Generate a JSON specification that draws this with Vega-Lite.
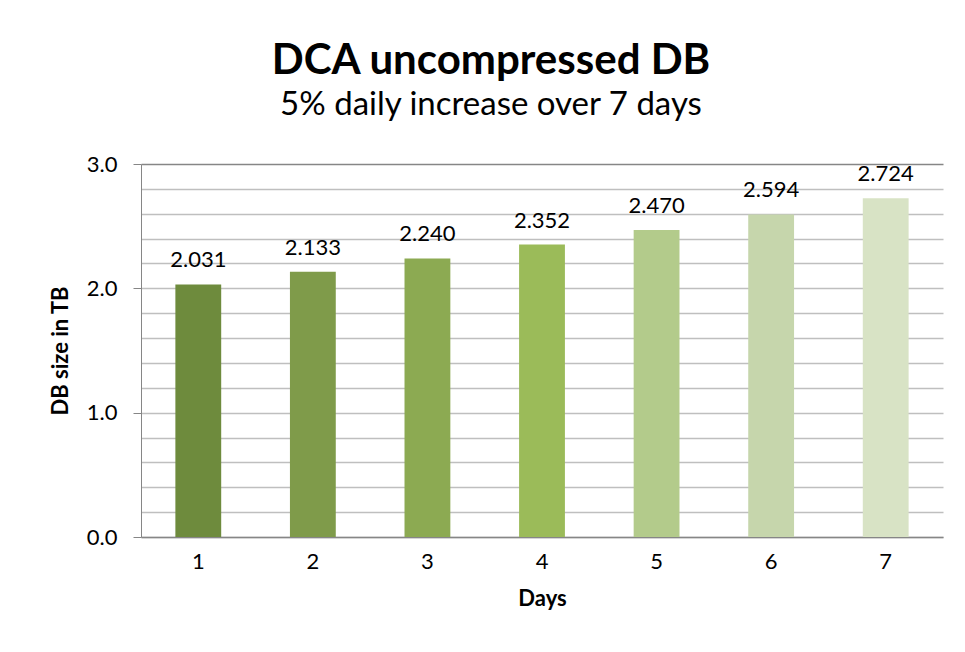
{
  "$schema": "https://vega.github.io/schema/vega-lite/v6.json",
  "width": 802,
  "height": 373,
  "autosize": {"type": "none"},
  "padding": {"left": 141, "top": 164, "right": 22, "bottom": 115},
  "background": "white",
  "title": {
    "text": "DCA uncompressed DB",
    "subtitle": "5% daily increase over 7 days",
    "anchor": "middle",
    "frame": "group",
    "dx": -51,
    "offset": 30,
    "font": "Lato",
    "fontSize": 42,
    "fontWeight": "bold",
    "color": "#000000",
    "subtitleFont": "Lato",
    "subtitleFontSize": 33,
    "subtitleColor": "#000000",
    "subtitlePadding": 6
  },
  "data": {
    "values": [
      {"day": "1", "size": 2.031},
      {"day": "2", "size": 2.133},
      {"day": "3", "size": 2.240},
      {"day": "4", "size": 2.352},
      {"day": "5", "size": 2.470},
      {"day": "6", "size": 2.594},
      {"day": "7", "size": 2.724}
    ]
  },
  "encoding": {
    "x": {
      "field": "day",
      "type": "nominal",
      "sort": null,
      "scale": {"paddingInner": 0.6, "paddingOuter": 0.3},
      "axis": {
        "title": "Days",
        "titleFont": "Lato",
        "titleFontSize": 22,
        "titleFontWeight": "bold",
        "titleColor": "#000000",
        "titlePadding": 16,
        "labelAngle": 0,
        "labelFont": "Lato",
        "labelFontSize": 22,
        "labelColor": "#000000",
        "labelPadding": 14,
        "ticks": false,
        "domainColor": "#868686",
        "domainWidth": 1.5
      }
    },
    "y": {
      "field": "size",
      "type": "quantitative",
      "scale": {"domain": [0, 3], "nice": false},
      "axis": {
        "title": "DB size in TB",
        "titleFont": "Lato",
        "titleFontSize": 22,
        "titleFontWeight": "bold",
        "titleColor": "#000000",
        "titlePadding": 14,
        "values": [0, 0.2, 0.4, 0.6, 0.8, 1, 1.2, 1.4, 1.6, 1.8, 2, 2.2, 2.4, 2.6, 2.8, 3],
        "labelExpr": "datum.value % 1 === 0 ? format(datum.value, '.1f') : ''",
        "labelFont": "Lato",
        "labelFontSize": 22,
        "labelColor": "#000000",
        "labelPadding": 16,
        "tickSize": 8,
        "tickColor": "#868686",
        "tickOpacity": {"condition": {"test": "datum.value % 1 === 0", "value": 1}, "value": 0},
        "domainColor": "#868686",
        "grid": true,
        "gridColor": {"condition": {"test": "datum.value === 3", "value": "#868686"}, "value": "#BFBFBF"},
        "gridWidth": 1.5
      }
    }
  },
  "layer": [
    {
      "mark": {"type": "bar"},
      "encoding": {
        "color": {
          "field": "day",
          "type": "nominal",
          "scale": {
            "domain": ["1", "2", "3", "4", "5", "6", "7"],
            "range": ["#6E8B3D", "#7F9B4A", "#8CAA52", "#9BBB59", "#B3CB8B", "#C6D6AC", "#D8E3C5"]
          },
          "legend": null
        }
      }
    },
    {
      "mark": {"type": "text", "dy": -17, "baseline": "alphabetic", "font": "Lato", "fontSize": 22, "color": "#000000"},
      "encoding": {
        "text": {"field": "size", "type": "quantitative", "format": ".3f"}
      }
    }
  ],
  "config": {
    "view": {"stroke": null}
  }
}
